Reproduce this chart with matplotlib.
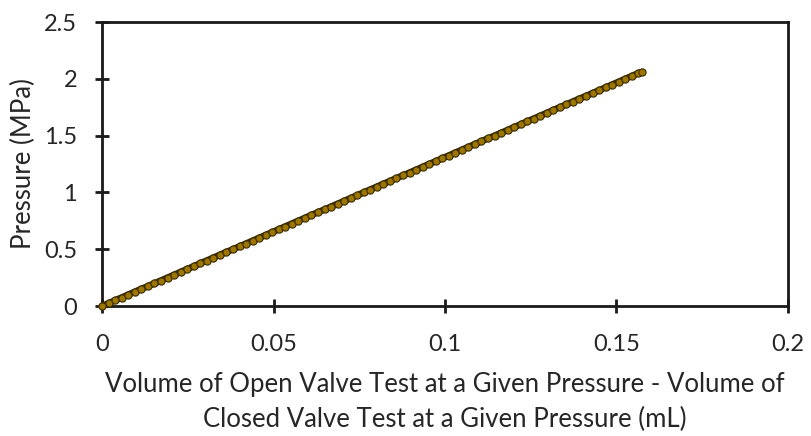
import matplotlib
matplotlib.use("Agg")
import matplotlib.pyplot as plt

# Pressure readings (MPa) and the matching volume difference (mL)
pressure_mpa = [
    0.000, 0.025, 0.050, 0.075, 0.100, 0.125, 0.150, 0.175, 0.200, 0.225,
    0.250, 0.275, 0.300, 0.325, 0.350, 0.375, 0.400, 0.425, 0.450, 0.475,
    0.500, 0.525, 0.550, 0.575, 0.600, 0.625, 0.650, 0.675, 0.700, 0.725,
    0.750, 0.775, 0.800, 0.825, 0.850, 0.875, 0.900, 0.925, 0.950, 0.975,
    1.000, 1.025, 1.050, 1.075, 1.100, 1.125, 1.150, 1.175, 1.200, 1.225,
    1.250, 1.275, 1.300, 1.325, 1.350, 1.375, 1.400, 1.425, 1.450, 1.475,
    1.500, 1.525, 1.550, 1.575, 1.600, 1.625, 1.650, 1.675, 1.700, 1.725,
    1.750, 1.775, 1.800, 1.825, 1.850, 1.875, 1.900, 1.925, 1.950, 1.975,
    2.000, 2.025, 2.050, 2.060,
]
volume_diff_ml = [
    0.0000, 0.0019, 0.0038, 0.0057, 0.0076, 0.0095, 0.0114, 0.0134, 0.0153, 0.0172,
    0.0191, 0.0210, 0.0229, 0.0248, 0.0267, 0.0286, 0.0305, 0.0324, 0.0343, 0.0362,
    0.0382, 0.0401, 0.0420, 0.0439, 0.0458, 0.0477, 0.0496, 0.0515, 0.0534, 0.0553,
    0.0572, 0.0591, 0.0610, 0.0629, 0.0649, 0.0668, 0.0687, 0.0706, 0.0725, 0.0744,
    0.0763, 0.0782, 0.0801, 0.0820, 0.0839, 0.0858, 0.0877, 0.0897, 0.0916, 0.0935,
    0.0954, 0.0973, 0.0992, 0.1011, 0.1030, 0.1049, 0.1068, 0.1087, 0.1106, 0.1125,
    0.1145, 0.1164, 0.1183, 0.1202, 0.1221, 0.1240, 0.1259, 0.1278, 0.1297, 0.1316,
    0.1335, 0.1354, 0.1373, 0.1392, 0.1412, 0.1431, 0.1450, 0.1469, 0.1488, 0.1507,
    0.1526, 0.1545, 0.1564, 0.1575,
]

x_ticks = [0, 0.05, 0.1, 0.15, 0.2]
x_tick_labels = ["0", "0.05", "0.1", "0.15", "0.2"]
y_ticks = [0, 0.5, 1, 1.5, 2, 2.5]
y_tick_labels = ["0", "0.5", "1", "1.5", "2", "2.5"]

plt.rcParams["font.family"] = ["Lato", "DejaVu Sans"]
text_color = "#262626"
tick_size = 17
label_size = 18.5

fig = plt.figure(figsize=(8.11, 4.36), dpi=100)
ax = fig.add_axes([0.1258, 0.298, 0.8458, 0.6515])

# dark band under the closely spaced data markers
ax.plot(volume_diff_ml, pressure_mpa, color="#3a2c00", lw=4.8,
        solid_capstyle="round", zorder=3, clip_on=False)
ax.plot(volume_diff_ml, pressure_mpa, linestyle="none",
        marker="o", ms=5.2, markerfacecolor="#9c7600", markeredgecolor="#3a2c00",
        markeredgewidth=0.8, zorder=4, clip_on=False)

ax.set_xlim(0, 0.2)
ax.set_ylim(0, 2.5)
ax.set_xticks(x_ticks)
ax.set_xticklabels(x_tick_labels)
ax.set_yticks(y_ticks)
ax.set_yticklabels(y_tick_labels)

for s in ax.spines.values():
    s.set_linewidth(2.0)
    s.set_color("#1a1a1a")

ax.tick_params(axis="both", direction="inout", length=10, width=2.0,
               colors="#1a1a1a", labelsize=tick_size, labelcolor=text_color)
ax.tick_params(axis="x", pad=15)
ax.tick_params(axis="y", pad=13)

ax.set_xlabel("Volume of Open Valve Test at a Given Pressure - Volume of\n"
              "Closed Valve Test at a Given Pressure (mL)",
              fontsize=label_size, color=text_color, linespacing=1.5, labelpad=12)
ax.set_ylabel("Pressure (MPa)", fontsize=label_size, color=text_color, labelpad=6)

fig.savefig("out.png", dpi=100)
